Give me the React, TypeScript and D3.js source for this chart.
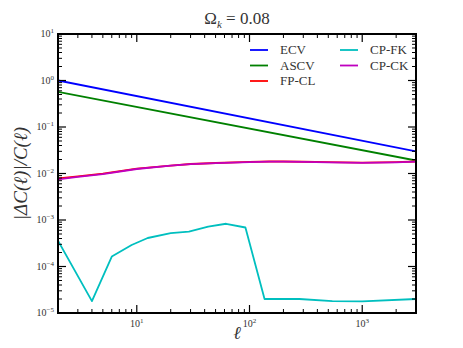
import React from 'react';
import * as d3 from 'd3';

// multipoles (x) and fractional errors for each method
const ellLine = [2, 3000];
const ecv = [1.0, 0.030];
const ascv = [0.57, 0.019];

const ellFlat = [2, 3, 5, 10, 20, 30, 50, 100, 150, 200, 300, 500, 1000, 2000, 3000];
const fpcl = [0.0078, 0.0087, 0.0099, 0.0127, 0.0148, 0.016, 0.0168, 0.0177, 0.0181, 0.0181, 0.0179, 0.0175, 0.0171, 0.0175, 0.0181];
const cpck = [0.0075, 0.0085, 0.0097, 0.0125, 0.0147, 0.0159, 0.0167, 0.0176, 0.018, 0.018, 0.0178, 0.0174, 0.017, 0.0174, 0.018];

const ellFk = [2, 4, 6, 9, 12.5, 20, 29, 43, 62, 92, 136, 277, 543, 1000, 3000];
const cpfk = [3.6e-4, 1.8e-5, 1.64e-4, 2.9e-4, 4.1e-4, 5.2e-4, 5.6e-4, 7.2e-4, 8.3e-4, 6.9e-4, 2.0e-5, 2.0e-5, 1.8e-5, 1.77e-5, 2.0e-5];

const xMajor = [10, 100, 1000];
const yMajor = [-5, -4, -3, -2, -1, 0, 1];

const legendItems = [
  { name: 'ECV', color: '#0000ff' },
  { name: 'ASCV', color: '#008000' },
  { name: 'FP-CL', color: '#ff0000' },
  { name: 'CP-FK', color: '#00bfbf' },
  { name: 'CP-CK', color: '#bf00bf' },
];

const FONT = 'Liberation Serif';

const App = () => {
  const width = 463;
  const height = 348;
  const margin = { top: 34, right: 47, bottom: 35, left: 58 };
  const iw = width - margin.left - margin.right;
  const ih = height - margin.top - margin.bottom;

  const x = d3.scaleLog().domain([2, 3000]).range([0, iw]);
  const y = d3.scaleLog().domain([1e-5, 10]).range([ih, 0]);

  const line = d3
    .line<[number, number]>()
    .x((d) => x(d[0]))
    .y((d) => y(d[1]));

  const series = [
    { xs: ellLine, ys: ecv, color: '#0000ff' },
    { xs: ellLine, ys: ascv, color: '#008000' },
    { xs: ellFlat, ys: fpcl, color: '#ff0000' },
    { xs: ellFk, ys: cpfk, color: '#00bfbf' },
    { xs: ellFlat, ys: cpck, color: '#bf00bf' },
  ];

  // minor ticks
  const xMinor: number[] = [];
  for (let p = 0; p <= 3; p++) {
    for (let k = 2; k <= 9; k++) {
      const v = k * Math.pow(10, p);
      if (v >= 2 && v <= 3000) xMinor.push(v);
    }
  }
  const yMinor: number[] = [];
  for (let p = -5; p < 1; p++) {
    for (let k = 2; k <= 9; k++) yMinor.push(k * Math.pow(10, p));
  }

  const textColor = '#333';

  return (
    <svg width={width} height={height} style={{ position: 'absolute', left: 0, top: 0 }}>
      <rect width={width} height={height} fill="#fff" />
      <text x={237} y={24} textAnchor="middle" fontSize={17} fontFamily={FONT} fill={textColor}>
        <tspan>Ω</tspan>
        <tspan fontStyle="italic" fontSize={11} dy={4}>k</tspan>
        <tspan dy={-4}> = 0.08</tspan>
      </text>
      <g transform={`translate(${margin.left},${margin.top})`}>
        <clipPath id="plotclip">
          <rect width={iw} height={ih} />
        </clipPath>
        <g clipPath="url(#plotclip)">
          {series.map((s, i) => (
            <path
              key={i}
              d={line(s.xs.map((v, j) => [v, s.ys[j]] as [number, number])) || ''}
              fill="none"
              stroke={s.color}
              strokeWidth={1.8}
              strokeLinejoin="round"
            />
          ))}
        </g>

        {/* x ticks, bottom and top */}
        {xMinor.map((v) => (
          <g key={'xm' + v}>
            <line x1={x(v)} x2={x(v)} y1={ih} y2={ih - 4} stroke="#000" strokeWidth={1} />
            <line x1={x(v)} x2={x(v)} y1={0} y2={4} stroke="#000" strokeWidth={1} />
          </g>
        ))}
        {xMajor.map((v) => (
          <g key={'xM' + v}>
            <line x1={x(v)} x2={x(v)} y1={ih} y2={ih - 8} stroke="#000" strokeWidth={1.2} />
            <line x1={x(v)} x2={x(v)} y1={0} y2={8} stroke="#000" strokeWidth={1.2} />
            <text x={x(v)} y={ih + 14} textAnchor="middle" fontSize={10} fontFamily={FONT} fill={textColor}>
              10
              <tspan fontSize={7} dy={-4}>{Math.log10(v)}</tspan>
            </text>
          </g>
        ))}

        {/* y ticks, left and right */}
        {yMinor.map((v) => (
          <g key={'ym' + v}>
            <line x1={0} x2={4} y1={y(v)} y2={y(v)} stroke="#000" strokeWidth={1} />
            <line x1={iw} x2={iw - 4} y1={y(v)} y2={y(v)} stroke="#000" strokeWidth={1} />
          </g>
        ))}
        {yMajor.map((p) => (
          <g key={'yM' + p}>
            <line x1={0} x2={8} y1={y(Math.pow(10, p))} y2={y(Math.pow(10, p))} stroke="#000" strokeWidth={1.2} />
            <line x1={iw} x2={iw - 8} y1={y(Math.pow(10, p))} y2={y(Math.pow(10, p))} stroke="#000" strokeWidth={1.2} />
            <text x={-4} y={y(Math.pow(10, p)) + 3} textAnchor="end" fontSize={10} fontFamily={FONT} fill={textColor}>
              10
              <tspan fontSize={7} dy={-4}>{p < 0 ? '\u2212' + -p : p}</tspan>
            </text>
          </g>
        ))}

        <rect width={iw} height={ih} fill="none" stroke="#000" strokeWidth={2} />

        {/* legend */}
        {legendItems.map((item, i) => {
          const col = i < 3 ? 0 : 1;
          const row = i < 3 ? i : i - 3;
          const lx = 192 + col * 90;
          const ly = 16 + row * 15.5;
          return (
            <g key={item.name} transform={`translate(${lx},${ly})`}>
              <line x1={0} x2={18} y1={0} y2={0} stroke={item.color} strokeWidth={1.8} />
              <text x={30} y={4} fontSize={13} fontFamily={FONT} fill={textColor}>
                {item.name}
              </text>
            </g>
          );
        })}
      </g>

      <text x={237} y={339} textAnchor="middle" fontSize={18} fontStyle="italic" fontFamily={FONT} fill={textColor}>
        ℓ
      </text>
      <text
        transform={`translate(27,${margin.top + ih / 2}) rotate(-90)`}
        textAnchor="middle"
        fontSize={19}
        fontStyle="italic"
        fontFamily={FONT}
        fill={textColor}
      >
        |ΔC(ℓ)|/C(ℓ)
      </text>
    </svg>
  );
};

export default App;
